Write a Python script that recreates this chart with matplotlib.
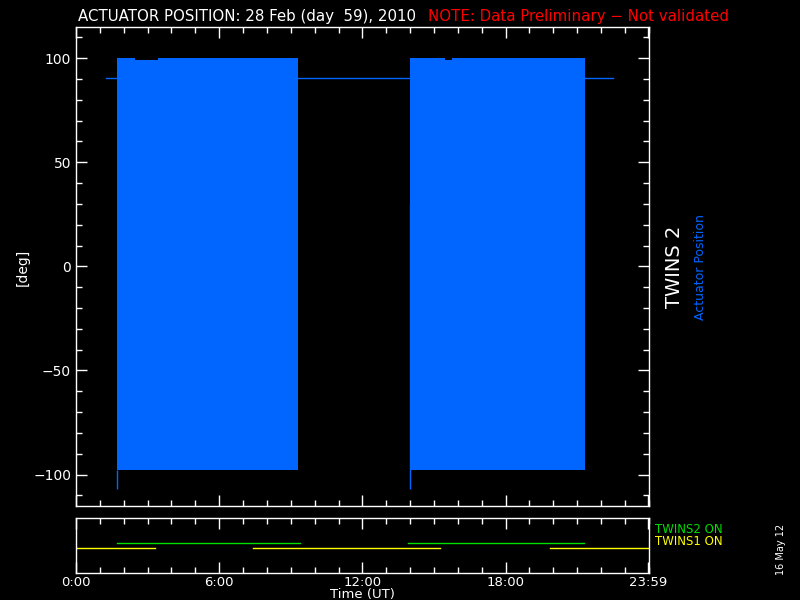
import numpy as np
import matplotlib
matplotlib.use("Agg")
import matplotlib.pyplot as plt
from matplotlib.ticker import MultipleLocator

# actuator sweep blocks (hours UT, deg)
block_start = [1.72, 13.98]
block_end = [9.32, 21.32]
block_top = [100, 100]
block_bottom = [-98, -98]
# parking level between sweeps
park_x = [1.26, 22.5]
park_y = [90.5, 90.5]
# small excursions at the start of each block
spike_x = [1.72, 13.98]
spike_lo = [-107, -107]
spike_hi = [-98, 30]
# short dips of the upper limit
notch_start = [2.47, 15.45]
notch_end = [3.43, 15.75]
notch_top = [99, 99]

# ON status segments (hours UT)
twins2_on = [(1.72, 9.38), (13.9, 21.3)]
twins1_on = [(0.0, 3.3), (7.42, 15.27), (19.87, 24.0)]

xticks = [0, 6, 12, 18, 23.983]
xlabels = ["0:00", "6:00", "12:00", "18:00", "23:59"]
yticks = [-100, -50, 0, 50, 100]

blue = "#0066ff"
plt.rcParams['font.family'] = 'DejaVu Sans'

fig = plt.figure(figsize=(8, 6), dpi=100, facecolor="black")
ax = fig.add_axes([0.095, 0.157, 0.716, 0.798], facecolor="black")
ax2 = fig.add_axes([0.095, 0.045, 0.716, 0.092], facecolor="black")

ax.plot(park_x, park_y, color=blue, lw=1)
for s, e, t, b in zip(block_start, block_end, block_top, block_bottom):
    ax.fill_between([s, e], [b, b], [t, t], color=blue, lw=0)
for s, e, t in zip(notch_start, notch_end, notch_top):
    ax.fill_between([s, e], [t, t], [100.5, 100.5], color="black", lw=0)
ax.vlines(spike_x, spike_lo, spike_hi, color=blue, lw=1)

ax.set_xlim(0, 24)
ax.set_ylim(-115, 115)
ax.set_yticks(yticks)
ax.set_yticklabels([str(v).replace("-", "\u2212") for v in yticks])
ax.yaxis.set_minor_locator(MultipleLocator(10))
ax.set_xticks(xticks)
ax.set_xticklabels([])
ax.xaxis.set_minor_locator(MultipleLocator(1))

for a in (ax, ax2):
    for sp in a.spines.values():
        sp.set_color("white")
        sp.set_linewidth(1)
    a.tick_params(which="both", direction="in", colors="white", top=True, right=True,
                  labelsize=10, width=1)
    a.tick_params(which="major", length=8)
    a.tick_params(which="minor", length=4)

for s, e in twins2_on:
    ax2.plot([s, e], [0.55, 0.55], color="#00dd00", lw=1)
for s, e in twins1_on:
    ax2.plot([s, e], [0.45, 0.45], color="yellow", lw=1)
ax2.set_xlim(0, 24)
ax2.set_ylim(0, 1)
ax2.set_yticks([])
ax2.tick_params(axis="y", which="both", left=False, right=False)
ax2.tick_params(axis="x", labelsize=9.5, pad=2)
ax2.set_xticks(xticks)
ax2.set_xticklabels(xlabels)
ax2.xaxis.set_minor_locator(MultipleLocator(1))

fig.text(0.0975, 0.973, "ACTUATOR POSITION: 28 Feb (day  59), 2010", color="white",
         fontsize=10.8, va="center", ha="left")
fig.text(0.535, 0.973, "NOTE: Data Preliminary \u2212 Not validated", color="red",
         fontsize=10.8, va="center", ha="left")
fig.text(0.028, 0.555, "[deg]", color="white", fontsize=10, rotation=90,
         ha="center", va="center")
fig.text(0.4525, 0.009, "Time (UT)", color="white", fontsize=9.5,
         ha="center", va="center")
fig.text(0.843, 0.555, "TWINS 2", color="white", fontsize=14, rotation=90,
         ha="center", va="center")
fig.text(0.876, 0.555, "Actuator Position", color=blue, fontsize=9, rotation=90,
         ha="center", va="center")
fig.text(0.819, 0.117, "TWINS2 ON", color="#00dd00", fontsize=8.5, ha="left", va="center")
fig.text(0.819, 0.097, "TWINS1 ON", color="yellow", fontsize=8.5, ha="left", va="center")
fig.text(0.976, 0.085, "16 May 12", color="white", fontsize=7, rotation=90,
         ha="center", va="center")

fig.savefig("out.png", dpi=100, facecolor="black")
